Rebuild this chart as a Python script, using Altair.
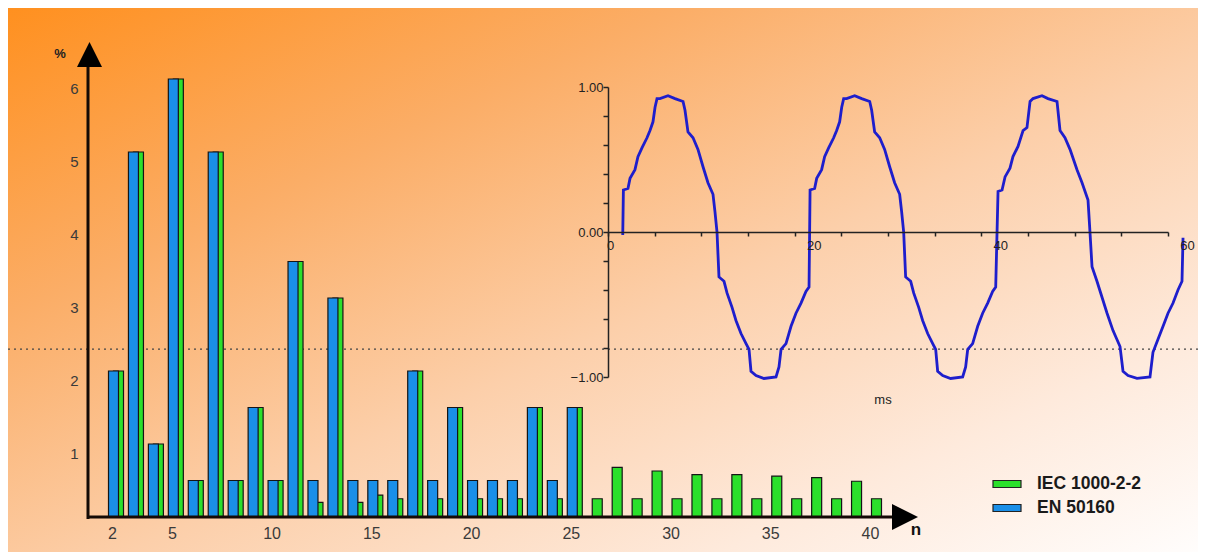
import altair as alt
import pandas as pd

# ---------------- data ----------------
n_iec = list(range(2, 41))
iec_vals = [2.0, 5.0, 1.0, 6.0, 0.5, 5.0, 0.5, 1.5, 0.5, 3.5, 0.2, 3.0, 0.2, 0.3,
            0.25, 2.0, 0.25, 1.5, 0.25, 0.25, 0.25, 1.5, 0.25, 1.5, 0.25, 0.68,
            0.25, 0.63, 0.25, 0.58, 0.25, 0.58, 0.25, 0.56, 0.25, 0.54, 0.25,
            0.49, 0.25]
n_en = list(range(2, 26))
en_vals = [2.0, 5.0, 1.0, 6.0, 0.5, 5.0, 0.5, 1.5, 0.5, 3.5, 0.5, 3.0, 0.5, 0.5,
           0.5, 2.0, 0.5, 1.5, 0.5, 0.5, 0.5, 1.5, 0.5, 1.5]
series_names = ["IEC 1000-2-2", "EN 50160"]
series_colors = ["#2BE02B", "#1A8FE8"]
x_ticks = [2, 5, 10, 15, 20, 25, 30, 35, 40]
y_ticks = [1, 2, 3, 4, 5, 6]
ref_line = [2.3]

# waveform (ms, per-unit)
t1 = [1.58, 1.65, 2.14, 2.36, 2.89, 3.21, 3.64, 4.18, 4.50, 4.82, 5.04, 5.25, 5.57,
      6.43, 7.18, 8.04, 8.25, 8.57, 9.11, 9.64, 10.18, 10.71, 11.25, 11.46, 11.68,
      11.89, 12.43, 12.75, 13.29, 13.71, 14.25, 14.79, 15.11, 15.32, 15.86, 16.71,
      18.00, 18.32, 18.54, 19.07, 19.61, 20.14, 20.68, 21.21, 21.54]
v1 = [-0.02, 0.29, 0.30, 0.37, 0.43, 0.52, 0.58, 0.65, 0.70, 0.76, 0.86, 0.92, 0.92,
      0.94, 0.92, 0.90, 0.84, 0.69, 0.65, 0.57, 0.45, 0.34, 0.26, 0.14, 0.00,
      -0.31, -0.34, -0.42, -0.52, -0.61, -0.70, -0.77, -0.81, -0.96, -0.99, -1.01,
      -1.00, -0.93, -0.81, -0.77, -0.65, -0.56, -0.49, -0.41, -0.38]
t2 = [21.65, 22.14, 22.36, 22.89, 23.21, 23.64, 24.18, 24.50, 24.82, 25.04, 25.25,
      25.57, 26.43, 27.18, 28.04, 28.25, 28.57, 29.11, 29.64, 30.18, 30.71, 31.25,
      31.46, 31.68, 31.89, 32.43, 32.75, 33.29, 33.71, 34.25, 34.79, 35.11, 35.32,
      35.86, 36.71, 38.00, 38.32, 38.54, 39.07, 39.61, 40.14, 40.68, 41.21, 41.54]
v2 = [0.29, 0.30, 0.37, 0.43, 0.52, 0.58, 0.65, 0.70, 0.76, 0.86, 0.92, 0.92, 0.94,
      0.92, 0.90, 0.84, 0.69, 0.65, 0.57, 0.45, 0.34, 0.26, 0.14, 0.00, -0.31,
      -0.34, -0.42, -0.52, -0.61, -0.70, -0.77, -0.81, -0.96, -0.99, -1.01, -1.00,
      -0.93, -0.81, -0.77, -0.65, -0.56, -0.49, -0.41, -0.38]
t3 = [41.79, 42.22, 42.54, 43.07, 43.39, 43.93, 44.47, 44.89, 45.22, 45.54, 46.50,
      47.14, 48.11, 48.43, 48.96, 49.50, 50.25, 50.79, 51.43, 51.64, 51.86, 52.39,
      52.93, 53.47, 54.11, 54.86, 55.18, 55.72, 56.68, 58.07, 58.39, 58.93, 59.47,
      60.00, 60.54, 61.07, 61.50, 61.61]
v3 = [0.28, 0.29, 0.38, 0.44, 0.52, 0.59, 0.70, 0.72, 0.90, 0.92, 0.94, 0.92, 0.90,
      0.70, 0.65, 0.57, 0.43, 0.34, 0.22, 0.00, -0.24, -0.34, -0.45, -0.56, -0.68,
      -0.79, -0.96, -0.99, -1.01, -1.00, -0.83, -0.74, -0.65, -0.56, -0.49, -0.40,
      -0.34, -0.04]
wave_ticks_x = [0, 5, 10, 15, 20, 25, 30, 35, 40, 45, 50, 55, 60]
wave_ticks_y = [-1.0, -0.8, -0.6, -0.4, -0.2, 0.0, 0.2, 0.4, 0.6, 0.8, 1.0]
labels_txt = ["%", "n", "ms"]

# ---------------- tables ----------------
df_iec = pd.DataFrame({"n": n_iec, "value": iec_vals, "series": series_names[0]})
df_en = pd.DataFrame({"n": n_en, "value": en_vals, "series": series_names[1]})
df_wave = pd.DataFrame({"t": t1 + t2 + t3, "v": v1 + v2 + v3})
df_one = pd.DataFrame({"a": [0]})

W, H = 1190, 544
FONT = "Liberation Sans"


def XM():
    return alt.Scale(domain=[2, 40], range=[104, 862], nice=False, zero=False, padding=0)


def YM():
    return alt.Scale(domain=[0, 6], range=[509, 71], nice=False, zero=False, padding=0)


def XI():
    return alt.Scale(domain=[0, 60], range=[600, 1160], nice=False, zero=False)


def YI():
    return alt.Scale(domain=[-1, 1], range=[369, 79], nice=False, zero=False)


color_enc = alt.Color(
    "series:N",
    scale=alt.Scale(domain=series_names, range=series_colors),
    legend=alt.Legend(
        orient="none", legendX=984, legendY=461, title=None,
        symbolType="M-1,-0.25L1,-0.25L1,0.25L-1,0.25Z", symbolSize=784,
        symbolStrokeColor="#222222", symbolStrokeWidth=1.2, symbolOpacity=1,
        labelFont=FONT, labelFontWeight="bold", labelFontSize=17.5,
        labelColor="#1a1a1a", labelOffset=15, rowPadding=-3, zindex=2,
    ),
)

gradient = alt.Gradient(
    gradient="linear", x1=0, y1=0, x2=1, y2=1,
    stops=[
        alt.GradientStop(offset=0.0, color="#FF901F"),
        alt.GradientStop(offset=0.28, color="#FBAD66"),
        alt.GradientStop(offset=0.55, color="#FCCFAA"),
        alt.GradientStop(offset=0.8, color="#FEEADC"),
        alt.GradientStop(offset=1.0, color="#FFFDFC"),
    ],
)

bg = alt.Chart(df_one).mark_rect(fill=gradient).encode(
    x=alt.value(0), x2=alt.value(W), y=alt.value(0), y2=alt.value(H)
)

dotted = alt.Chart(pd.DataFrame({"d": ref_line})).mark_rule(
    color="#444444", strokeDash=[2, 4], strokeWidth=1.2
).encode(
    x=alt.value(0), x2=alt.value(W),
    y=alt.Y("d:Q", scale=YM(), axis=None),
)

main_x_axis = alt.Axis(
    orient="bottom", offset=-35, values=x_ticks, ticks=False, tickSize=0,
    domain=False, grid=False, title=None, labelPadding=8, zindex=2,
    labelFlush=False, labelOverlap=False,
    labelFont=FONT, labelFontSize=16, labelColor="#3a3a3a",
)
main_y_axis = alt.Axis(
    orient="left", offset=-80, values=y_ticks, ticks=False, tickSize=0,
    domain=False, grid=False, title=None, labelPadding=10, labelOffset=9,
    labelFlush=False, labelOverlap=False,
    zindex=2, labelFont=FONT, labelFontSize=15, labelColor="#3a3a3a",
)

green_bars = alt.Chart(df_iec).mark_bar(
    width=10, xOffset=6.5, stroke="#151515", strokeWidth=1.2, opacity=1
).encode(
    x=alt.X("n:Q", scale=XM(), axis=main_x_axis),
    y=alt.Y("value:Q", scale=YM(), axis=main_y_axis),
    color=color_enc,
)

blue_bars = alt.Chart(df_en).mark_bar(
    width=10, xOffset=1.5, stroke="#151515", strokeWidth=1.2, opacity=1
).encode(
    x=alt.X("n:Q", scale=XM(), axis=None),
    y=alt.Y("value:Q", scale=YM(), axis=None),
    color=alt.Color("series:N", scale=alt.Scale(domain=series_names, range=series_colors), legend=None),
)

axis_color = "#140a05"
y_axis_line = alt.Chart(df_one).mark_rule(color=axis_color, strokeWidth=3).encode(
    x=alt.value(80), y=alt.value(511), y2=alt.value(58)
)
x_axis_line = alt.Chart(df_one).mark_rule(color=axis_color, strokeWidth=3).encode(
    x=alt.value(79), x2=alt.value(890), y=alt.value(509)
)
y_arrow = alt.Chart(df_one).mark_point(
    shape="M0,-1L1,1L-1,1Z", filled=True, size=625, color="#000000", opacity=1
).encode(x=alt.value(81.5), y=alt.value(46.5))
x_arrow = alt.Chart(df_one).mark_point(
    shape="M1,0L-1,1L-1,-1Z", filled=True, size=676, color="#000000", opacity=1
).encode(x=alt.value(897), y=alt.value(509))

pct_text = alt.Chart(pd.DataFrame({"s": [labels_txt[0]]})).mark_text(
    font=FONT, fontSize=13, fontWeight="bold", color="#222222"
).encode(text="s:N", x=alt.value(52), y=alt.value(46))
n_text = alt.Chart(pd.DataFrame({"s": [labels_txt[1]]})).mark_text(
    font=FONT, fontSize=17, fontWeight="bold", color="#111111"
).encode(text="s:N", x=alt.value(908), y=alt.value(522))
ms_text = alt.Chart(pd.DataFrame({"s": [labels_txt[2]]})).mark_text(
    font=FONT, fontSize=13, color="#222222"
).encode(text="s:N", x=alt.value(875), y=alt.value(392))

inset_x_axis = alt.Axis(
    orient="bottom", offset=-320, values=wave_ticks_x, tickSize=4, tickWidth=1.5,
    tickColor="#222222", domainColor="#222222", domainWidth=1.5, grid=False,
    title=None, labelPadding=3, zindex=1, labelFlush=False, labelOverlap=False,
    labelExpr="(datum.value % 20 == 0) ? datum.label : ''",
    labelOffset={"condition": {"test": "datum.value == 0", "value": 2}, "value": 19},
    labelFont=FONT, labelFontSize=13, labelColor="#222222",
)
inset_y_axis = alt.Axis(
    orient="left", offset=-600, values=wave_ticks_y, tickSize=5, tickWidth=1.5,
    tickColor="#222222", domainColor="#222222", domainWidth=1.5, grid=False,
    title=None, labelPadding=0, format=".2f", zindex=1, labelFlush=False,
    labelOverlap=False,
    labelExpr="(abs(datum.value) > 0.99 || abs(datum.value) < 0.01) ? datum.label : ''",
    labelFont=FONT, labelFontSize=13, labelColor="#222222",
)

wave = alt.Chart(df_wave).mark_line(color="#1E1ECC", strokeWidth=2.8).encode(
    x=alt.X("t:Q", scale=XI(), axis=inset_x_axis),
    y=alt.Y("v:Q", scale=YI(), axis=inset_y_axis),
)

chart = alt.layer(
    bg, dotted, green_bars, blue_bars, y_axis_line, x_axis_line, y_arrow, x_arrow,
    pct_text, n_text, ms_text, wave,
).resolve_scale(
    x="independent", y="independent"
).properties(
    width=W, height=H, padding=0, autosize="none", background="white"
).configure_view(stroke=None)

chart.save("out.html", embed_options={"renderer": "svg", "actions": False})
